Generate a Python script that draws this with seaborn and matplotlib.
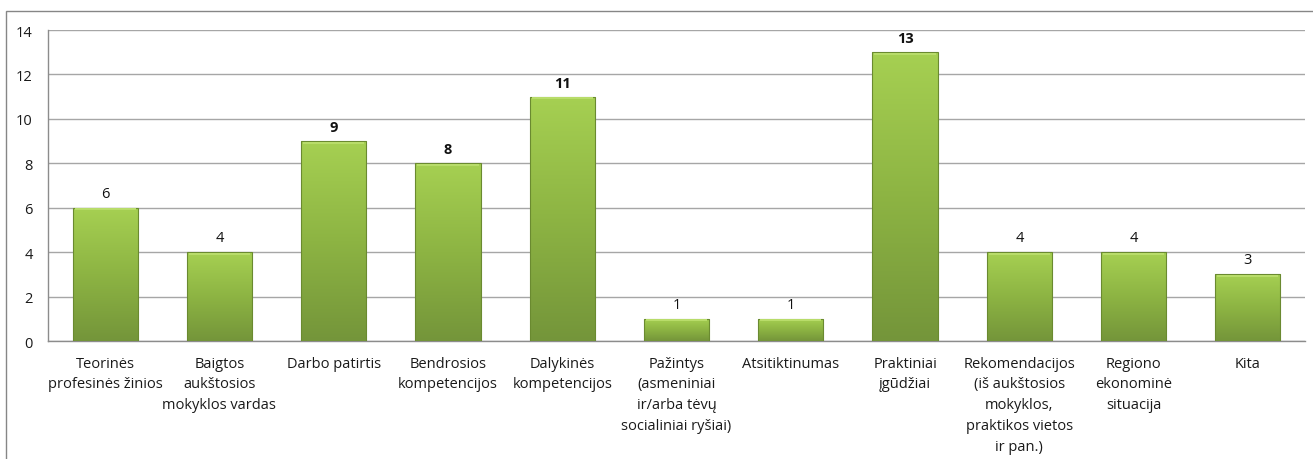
import matplotlib
matplotlib.use("Agg")
import matplotlib.pyplot as plt
import seaborn as sns
import numpy as np
import pandas as pd
from matplotlib.colors import LinearSegmentedColormap
from matplotlib.patches import Rectangle

categories = [
    "Teorinės\nprofesinės žinios",
    "Baigtos\naukštosios\nmokyklos vardas",
    "Darbo patirtis",
    "Bendrosios\nkompetencijos",
    "Dalykinės\nkompetencijos",
    "Pažintys\n(asmeniniai\nir/arba tėvų\nsocialiniai ryšiai)",
    "Atsitiktinumas",
    "Praktiniai\nįgūdžiai",
    "Rekomendacijos\n(iš aukštosios\nmokyklos,\npraktikos vietos\nir pan.)",
    "Regiono\nekonominė\nsituacija",
    "Kita",
]
values = [6, 4, 9, 8, 11, 1, 1, 13, 4, 4, 3]
bold_labels = [False, False, True, True, True, False, False, True, False, False, False]
y_ticks = [0, 2, 4, 6, 8, 10, 12, 14]

sns.set_theme(style="white")
plt.rcParams['font.family'] = ['Open Sans', 'DejaVu Sans']
FS = 10.5

fig = plt.figure(figsize=(13.13, 4.6), dpi=100)
ax = fig.add_axes([48/1313, 1-342/460, (1305-48)/1313, (342-31)/460])

df = pd.DataFrame({"cat": categories, "val": values})
sns.barplot(data=df, x="cat", y="val", color="#9bc44a", width=0.57, ax=ax,
            edgecolor="none", zorder=3)

ax.set_ylim(0, 14)
ax.set_xlim(-0.5, len(categories) - 0.5)
ax.set_yticks(y_ticks)
ax.set_yticklabels([str(t) for t in y_ticks], fontsize=FS, color="#1a1a1a")
ax.set_xlabel("")
ax.set_ylabel("")
ax.tick_params(axis="x", length=0, pad=10.5, labelsize=FS, labelcolor="#1a1a1a")
ax.tick_params(axis="y", length=0, pad=11)
for lbl in ax.get_xticklabels():
    lbl.set_linespacing(1.53)
    lbl.set_verticalalignment("top")

ax.grid(axis="y", color="#a6a6a6", linewidth=1, zorder=0)
ax.set_axisbelow(True)
for s in ["top", "right"]:
    ax.spines[s].set_visible(False)
for s in ["left", "bottom"]:
    ax.spines[s].set_color("#8c8c8c")
    ax.spines[s].set_linewidth(1)

# gradient fill on bars
cmap = LinearSegmentedColormap.from_list("g", ["#74953a", "#8db443", "#a6d052"])
grad = np.linspace(0, 1, 256).reshape(-1, 1)
for p, v, b in zip(ax.patches, values, bold_labels):
    x0, w, h = p.get_x(), p.get_width(), p.get_height()
    p.set_facecolor("none")
    im = ax.imshow(grad, cmap=cmap, aspect="auto", origin="lower",
                   extent=[x0, x0 + w, 0, h], zorder=3)
    im.set_clip_path(p)
    ax.add_patch(Rectangle((x0, 0), w, h, fill=False, edgecolor="#6a8a30",
                           linewidth=0.8, zorder=4))
    ax.add_patch(Rectangle((x0 + w*0.03, h - 0.12), w*0.94, 0.1, facecolor="#b8dc6a",
                           edgecolor="none", zorder=4))
    ax.annotate(str(v), (x0 + w/2, h), xytext=(0, 5), textcoords="offset points",
                ha="center", va="bottom", fontsize=FS,
                fontweight="bold" if b else "normal", color="#111111")

# outer chart border
fig.add_artist(Rectangle((6/1313, -0.1), 1.2, (460-12)/460 + 0.1,
                         transform=fig.transFigure, fill=False,
                         edgecolor="#868686", linewidth=1))

fig.savefig("out.png", dpi=100)
